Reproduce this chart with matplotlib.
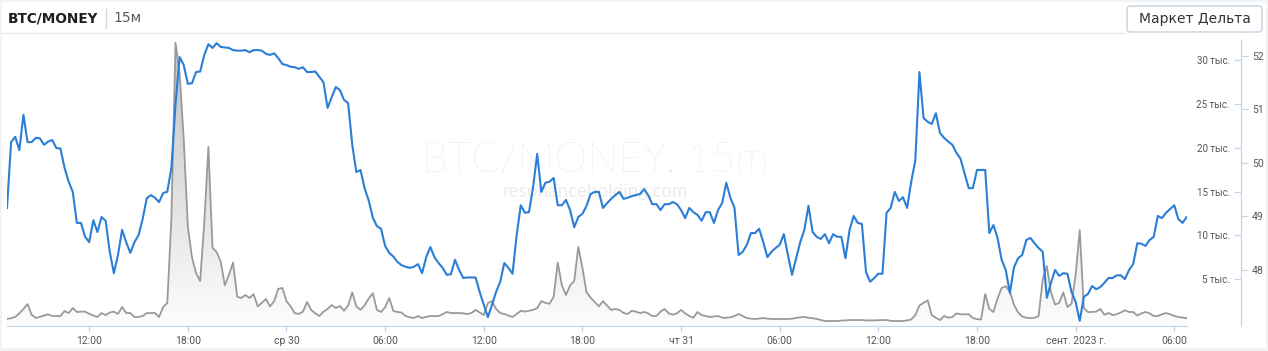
import numpy as np
import pandas as pd
import matplotlib
matplotlib.use('Agg')
import matplotlib.pyplot as plt
import matplotlib.dates as mdates
from matplotlib.patches import FancyBboxPatch, Rectangle
from matplotlib.colors import LinearSegmentedColormap

plt.rcParams['font.family'] = ['Roboto', 'DejaVu Sans']

# BTC/MONEY price, 15 min bars from 2023-08-29 07:00
price = [
    49.16, 50.39, 50.49, 50.24, 50.90, 50.39, 50.39, 50.47, 50.46, 50.34, 50.40, 50.43,
    50.28, 50.27, 49.91, 49.65, 49.46, 48.88, 48.88, 48.62, 48.52, 48.93, 48.71, 48.99,
    48.92, 48.34, 47.94, 48.28, 48.75, 48.52, 48.32, 48.52, 48.65, 48.95, 49.34, 49.40,
    49.35, 49.27, 49.44, 49.46, 49.91, 51.10, 51.98, 51.83, 51.48, 51.49, 51.70, 51.71,
    52.02, 52.22, 52.15, 52.24, 52.17, 52.16, 52.15, 52.11, 52.10, 52.10, 52.11, 52.07,
    52.11, 52.11, 52.10, 52.04, 52.02, 52.05, 51.96, 51.85, 51.83, 51.80, 51.79, 51.76,
    51.79, 51.70, 51.70, 51.71, 51.61, 51.51, 51.03, 51.23, 51.42, 51.36, 51.18, 51.12,
    50.34, 49.83, 49.87, 49.53, 49.30, 48.98, 48.82, 48.77, 48.45, 48.32, 48.25, 48.15,
    48.09, 48.06, 48.04, 48.06, 48.11, 47.94, 48.24, 48.43, 48.24, 48.13, 48.04, 47.91,
    47.92, 48.19, 48.00, 47.85, 47.86, 47.86, 47.86, 47.59, 47.35, 47.12, 47.35, 47.59,
    47.78, 48.13, 48.04, 47.93, 48.65, 49.21, 49.07, 49.08, 49.55, 50.17, 49.46, 49.63,
    49.65, 49.72, 49.21, 49.21, 49.31, 49.12, 48.80, 48.99, 49.05, 49.20, 49.42, 49.46,
    49.46, 49.16, 49.25, 49.33, 49.40, 49.46, 49.33, 49.35, 49.38, 49.40, 49.42, 49.51,
    49.40, 49.23, 49.23, 49.12, 49.23, 49.23, 49.27, 49.23, 49.12, 48.97, 49.16, 49.08,
    49.03, 48.92, 49.08, 49.08, 48.88, 49.12, 49.25, 49.63, 49.35, 49.16, 48.28, 48.34,
    48.47, 48.69, 48.69, 48.77, 48.52, 48.24, 48.34, 48.41, 48.47, 48.67, 48.28, 47.91,
    48.22, 48.52, 48.75, 49.20, 48.71, 48.62, 48.58, 48.67, 48.50, 48.67, 48.62, 48.62,
    48.22, 48.75, 49.01, 48.88, 48.86, 47.96, 47.78, 47.85, 47.93, 47.93, 49.07, 49.16,
    49.46, 49.29, 49.36, 49.16, 49.65, 50.05, 51.70, 50.84, 50.77, 50.73, 50.93, 50.56,
    50.47, 50.40, 50.34, 50.19, 50.08, 49.80, 49.53, 49.53, 49.87, 49.87, 49.87, 48.69,
    48.84, 48.60, 48.19, 48.00, 47.57, 48.05, 48.22, 48.28, 48.56, 48.60, 48.50, 48.41,
    48.34, 47.48, 47.76, 48.00, 47.89, 47.94, 47.93, 47.59, 47.40, 47.05, 47.50, 47.55,
    47.70, 47.64, 47.68, 47.76, 47.85, 47.85, 47.90, 47.90, 47.83, 48.00, 48.11, 48.50,
    48.49, 48.45, 48.56, 48.62, 49.01, 48.97, 49.07, 49.14, 49.21, 48.95, 48.88, 48.99,
]

# volume, thousands
volume = [
    0.46, 0.55, 0.70, 1.10, 1.60, 2.17, 0.95, 0.57, 0.70, 0.85, 1.00, 0.80,
    0.80, 0.80, 1.37, 1.14, 1.71, 1.26, 1.30, 1.30, 1.05, 0.85, 0.69, 1.14,
    0.91, 1.20, 1.30, 1.03, 1.83, 1.14, 1.14, 0.69, 0.69, 0.80, 1.14, 1.14,
    1.14, 0.69, 1.83, 2.28, 12.0, 32.0, 28.5, 21.0, 11.0, 7.5, 5.7, 4.8,
    11.5, 20.1, 8.6, 8.1, 7.0, 4.3, 5.5, 6.9, 3.0, 2.86, 3.2, 2.86,
    3.3, 1.9, 2.3, 2.74, 1.9, 2.5, 3.9, 4.0, 2.5, 1.9, 1.14, 1.03,
    1.3, 2.4, 1.5, 1.1, 0.8, 1.3, 1.6, 2.05, 1.71, 1.94, 1.4, 2.0,
    3.5, 1.9, 1.5, 2.0, 2.8, 3.4, 1.5, 1.26, 1.8, 2.86, 1.37, 1.26,
    1.2, 0.8, 0.65, 0.57, 0.8, 0.57, 0.7, 0.8, 0.8, 0.8, 1.0, 1.26,
    1.14, 1.14, 1.14, 1.1, 1.03, 1.14, 1.5, 1.2, 0.91, 2.28, 2.5, 1.6,
    1.14, 1.03, 0.85, 0.69, 1.03, 1.4, 1.3, 1.4, 1.5, 1.71, 2.5, 2.3,
    2.2, 3.0, 6.9, 4.3, 3.2, 4.3, 4.8, 8.7, 6.3, 3.5, 2.9, 2.4,
    1.9, 2.5, 2.0, 1.5, 1.6, 1.5, 1.14, 1.03, 1.4, 1.3, 1.14, 1.26,
    1.1, 0.8, 0.8, 1.3, 1.6, 1.1, 0.95, 1.1, 1.5, 1.1, 0.8, 0.6,
    1.26, 0.9, 0.8, 0.7, 0.75, 0.8, 0.6, 0.6, 0.65, 0.8, 1.03, 0.8,
    0.57, 0.5, 0.46, 0.5, 0.57, 0.5, 0.46, 0.46, 0.46, 0.46, 0.46, 0.5,
    0.57, 0.65, 0.69, 0.6, 0.55, 0.46, 0.35, 0.23, 0.23, 0.23, 0.23, 0.28,
    0.3, 0.34, 0.34, 0.34, 0.34, 0.3, 0.3, 0.3, 0.32, 0.34, 0.34, 0.25,
    0.23, 0.23, 0.23, 0.3, 0.4, 0.91, 2.0, 2.3, 2.6, 0.9, 0.6, 0.34,
    0.8, 0.6, 0.69, 1.1, 1.0, 1.0, 1.0, 0.57, 0.45, 0.4, 3.3, 1.6,
    1.26, 2.8, 4.0, 4.2, 3.6, 2.1, 1.2, 0.75, 0.6, 0.57, 0.6, 0.8,
    5.0, 6.5, 3.5, 2.1, 2.3, 3.5, 1.83, 2.2, 5.5, 10.6, 1.71, 1.26,
    1.26, 1.3, 1.6, 0.95, 1.14, 0.91, 1.0, 1.2, 1.45, 1.26, 1.26, 0.85,
    1.1, 1.26, 1.1, 0.8, 0.8, 1.0, 1.14, 1.0, 0.8, 0.69, 0.62, 0.57,
]

times = pd.date_range('2023-08-29 07:00', periods=len(price), freq='15min')

tick_times = pd.to_datetime([
    '2023-08-29 12:00', '2023-08-29 18:00', '2023-08-30 00:00', '2023-08-30 06:00',
    '2023-08-30 12:00', '2023-08-30 18:00', '2023-08-31 00:00', '2023-08-31 06:00',
    '2023-08-31 12:00', '2023-08-31 18:00', '2023-09-01 00:00', '2023-09-01 06:00',
])
tick_labels = ['12:00', '18:00', 'ср 30', '06:00', '12:00', '18:00', 'чт 31',
               '06:00', '12:00', '18:00', 'сент. 2023 г.', '06:00']
vol_ticks = [5, 10, 15, 20, 25, 30]
vol_labels = ['5 тыс.', '10 тыс.', '15 тыс.', '20 тыс.', '25 тыс.', '30 тыс.']
price_ticks = [48, 49, 50, 51, 52]

W, H = 1268, 351
axis_col = '#bfd5ec'

fig = plt.figure(figsize=(W / 100, H / 100), dpi=100)
fig.patch.set_facecolor('#f2f3f4')

# background / decorations in pixel coords
bg = fig.add_axes([0, 0, 1, 1], zorder=-1)
bg.set_xlim(0, W)
bg.set_ylim(H, 0)
bg.axis('off')
bg.add_patch(Rectangle((2, 2), W - 4, H - 5, facecolor='white', edgecolor='none'))
bg.plot([2, 1125], [33, 33], color='#ececec', lw=1)
bg.text(8, 18, 'BTC/MONEY', fontsize=9.8, fontweight='bold', color='#1e1e1e',
        va='center', ha='left', family=['DejaVu Sans'])
bg.plot([106, 106], [9, 28], color='#c9d7e6', lw=1)
bg.text(113, 18.5, '15м', fontsize=10, color='#5a5a5a', va='center', ha='left',
        family=['DejaVu Sans'])
bg.add_patch(FancyBboxPatch((1127, 6), 135, 26, boxstyle='round,pad=0,rounding_size=3',
                            facecolor='white', edgecolor='#c5d2df', lw=1))
bg.text(1194.5, 19.5, 'Маркет Дельта', fontsize=10, color='#333333',
        va='center', ha='center', family=['DejaVu Sans'])
# watermark
bg.text(595, 161, 'BTC/MONEY, 15m', fontsize=30, color='#e4e4e4', fontweight='light',
        va='center', ha='center', family=['Lato', 'DejaVu Sans'])
bg.text(595, 191, 'resonanceholding.com', fontsize=13.5, color='#ececec',
        va='center', ha='center', family=['Lato', 'DejaVu Sans'])

# plot area
x0, x1 = 7, 1186.6
top, bottom = 40, 326
ax = fig.add_axes([x0 / W, (H - bottom) / H, (x1 - x0) / W, (bottom - top) / H])
ax.set_facecolor('none')
spine_pos = (1241 - x0) / (x1 - x0)

# volume (grey, with vertical gradient fill)
tnum = mdates.date2num(times)
ax.plot(times, volume, color='#9a9a9a', lw=1.3, zorder=3)
fill = ax.fill_between(times, -1, volume, color='none', lw=0)
cmap = LinearSegmentedColormap.from_list('g', [(0.55, 0.55, 0.55, 0.02), (0.55, 0.55, 0.55, 0.55)])
grad = np.linspace(0, 1, 256).reshape(-1, 1)
img = ax.imshow(grad, extent=[tnum[0], tnum[-1], -0.34, 32.3], origin='lower',
                aspect='auto', cmap=cmap, zorder=2)
img.set_clip_path(fill.get_paths()[0], transform=ax.transData)
ax.set_xlim(times[0], times[-1])
ax.set_ylim(-0.34, 32.31)

ax2 = ax.twinx()
ax2.set_facecolor('none')
ax2.plot(times, price, color='#2a7ed6', lw=1.5, zorder=4)
ax2.set_ylim(46.953, 52.299)
ax2.set_xlim(times[0], times[-1])

for s in ['top', 'right']:
    ax.spines[s].set_visible(False)
for s in ['top', 'left', 'bottom']:
    ax2.spines[s].set_visible(False)
ax.spines['left'].set_position(('axes', spine_pos))
ax2.spines['right'].set_position(('axes', spine_pos))
ax.spines['left'].set_color(axis_col)
ax.spines['bottom'].set_color(axis_col)
ax2.spines['right'].set_color(axis_col)
ax.spines['bottom'].set_bounds(tnum[0], tnum[-1])

ax.set_xticks(tick_times)
ax.set_xticklabels(tick_labels)
ax.set_yticks(vol_ticks)
ax.set_yticklabels(vol_labels)
ax2.set_yticks(price_ticks)
ax.tick_params(axis='x', direction='out', length=4, color=axis_col, labelsize=7.5,
               labelcolor='#555555', pad=3)
ax.tick_params(axis='y', direction='out', length=5, color=axis_col, labelsize=7,
               labelcolor='#555555', pad=3)
ax2.tick_params(axis='y', direction='out', length=5, color=axis_col, labelsize=7.5,
                labelcolor='#555555', pad=3)

fig.savefig('out.png', dpi=100)
